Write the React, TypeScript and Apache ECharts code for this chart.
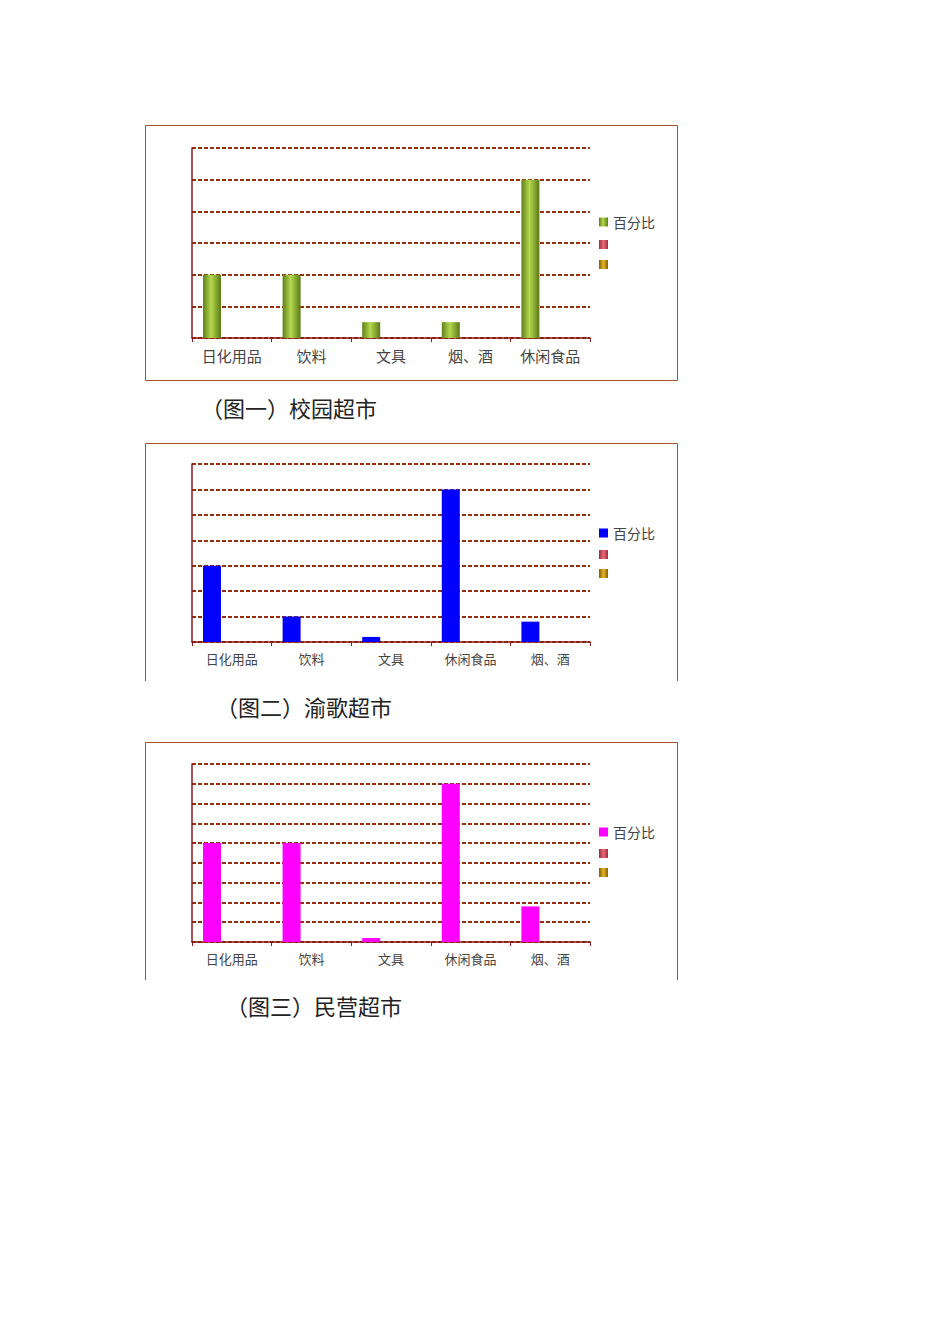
import { useEffect, useRef } from 'react'
import * as echarts from 'echarts'

// 图一 校园超市
const categories1 = ['日化用品', '饮料', '文具', '烟、酒', '休闲食品']
const values1 = [2, 2, 0.5, 0.5, 5]
// 图二 渝歌超市
const categories2 = ['日化用品', '饮料', '文具', '休闲食品', '烟、酒']
const values2 = [3, 1, 0.2, 6, 0.8]
// 图三 民营超市
const categories3 = ['日化用品', '饮料', '文具', '休闲食品', '烟、酒']
const values3 = [5, 5, 0.2, 8, 1.8]

const seriesNames = ['百分比', '系列2', '系列3']

const FONT = '"Noto Sans CJK SC", "Noto Sans", sans-serif'
const FRAME = '#a5522a'
const AXIS = '#8b1a1a'
const GRID = '#972f0c'

const greenBar = new echarts.graphic.LinearGradient(0, 0, 1, 0, [
  { offset: 0, color: '#5f801a' },
  { offset: 0.45, color: '#b4d84e' },
  { offset: 1, color: '#5a7a16' },
])
const redBar = new echarts.graphic.LinearGradient(0, 0, 1, 0, [
  { offset: 0, color: '#a02c3c' },
  { offset: 0.5, color: '#e86a7a' },
  { offset: 1, color: '#a02c3c' },
])
const goldBar = new echarts.graphic.LinearGradient(0, 0, 1, 0, [
  { offset: 0, color: '#8a5c00' },
  { offset: 0.5, color: '#e0b428' },
  { offset: 1, color: '#8a5c00' },
])

interface PanelProps {
  top: number
  height: number
  categories: string[]
  values: number[]
  yMax: number
  barColor: any
  caption: string
  captionX: number
  captionY: number
  gridTop: number
  gridHeight: number
  legendTop: number
  legendGap: number
  labelSize: number
  closed: boolean
}

function Panel(p: PanelProps) {
  const ref = useRef<HTMLDivElement>(null)

  useEffect(() => {
    if (!ref.current) return
    const chart = echarts.init(ref.current, undefined, { renderer: 'svg' })

    // 外框：图二、图三底边被裁掉
    const frame = p.closed
      ? {
          type: 'rect',
          shape: { x: 5.5, y: 5.5, width: 532, height: 255 },
          style: { fill: 'none', stroke: FRAME, lineWidth: 1 },
        }
      : {
          type: 'polyline',
          shape: { points: [[5.5, 243], [5.5, 5.5], [537.5, 5.5], [537.5, 243]] },
          style: { fill: 'none', stroke: FRAME, lineWidth: 1 },
        }

    chart.setOption({
      animation: false,
      textStyle: { fontFamily: FONT },
      grid: { left: 52, top: p.gridTop, width: 398, height: p.gridHeight },
      legend: {
        orient: 'vertical',
        left: 459,
        top: p.legendTop,
        padding: 0,
        itemWidth: 9,
        itemHeight: 9,
        itemGap: p.legendGap,
        icon: 'rect',
        data: seriesNames,
        formatter: (name: string) => (name === '百分比' ? name : ''),
        textStyle: { fontSize: 14, color: '#444', fontFamily: FONT },
      },
      xAxis: {
        type: 'category',
        data: p.categories,
        axisLine: { lineStyle: { color: AXIS, width: 1.5 } },
        axisTick: { show: true, length: 4, lineStyle: { color: AXIS } },
        axisLabel: { color: '#444', fontSize: p.labelSize, margin: 10, fontFamily: FONT },
      },
      yAxis: {
        type: 'value',
        min: 0,
        max: p.yMax,
        interval: 1,
        axisLine: { show: true, lineStyle: { color: AXIS, width: 1.5 } },
        axisTick: { show: false },
        axisLabel: { show: false },
        splitLine: { lineStyle: { color: GRID, type: [4, 2], width: 1.8 } },
      },
      series: [
        {
          name: seriesNames[0],
          type: 'bar',
          data: p.values,
          barWidth: 18,
          barGap: '10%',
          itemStyle: { color: p.barColor },
        },
        {
          name: seriesNames[1],
          type: 'bar',
          data: p.values.map(() => null),
          barWidth: 18,
          itemStyle: { color: redBar },
        },
        {
          name: seriesNames[2],
          type: 'bar',
          data: p.values.map(() => null),
          barWidth: 18,
          itemStyle: { color: goldBar },
        },
      ],
      graphic: [
        frame,
        {
          type: 'text',
          left: p.captionX,
          top: p.captionY - 12,
          style: { text: p.caption, fontSize: 22, fill: '#222', fontFamily: FONT },
        },
      ],
    })

    return () => chart.dispose()
  }, [])

  return (
    <div
      ref={ref}
      style={{ position: 'absolute', left: 140, top: p.top, width: 545, height: p.height }}
    />
  )
}

export default function App() {
  return (
    <div style={{ position: 'absolute', left: 0, top: 0, width: 950, height: 1344, background: '#fff' }}>
      <Panel
        top={120}
        height={305}
        categories={categories1}
        values={values1}
        yMax={6}
        barColor={greenBar}
        caption="（图一）校园超市"
        captionX={61}
        captionY={288}
        gridTop={28}
        gridHeight={190}
        legendTop={95}
        legendGap={11}
        labelSize={15}
        closed={true}
      />
      <Panel
        top={438}
        height={290}
        categories={categories2}
        values={values2}
        yMax={7}
        barColor="#0000ff"
        caption="（图二）渝歌超市"
        captionX={76}
        captionY={269}
        gridTop={26}
        gridHeight={178}
        legendTop={88}
        legendGap={10}
        labelSize={13}
        closed={false}
      />
      <Panel
        top={737}
        height={290}
        categories={categories3}
        values={values3}
        yMax={9}
        barColor="#ff00ff"
        caption="（图三）民营超市"
        captionX={86}
        captionY={269}
        gridTop={27}
        gridHeight={178}
        legendTop={88}
        legendGap={10}
        labelSize={13}
        closed={false}
      />
    </div>
  )
}
